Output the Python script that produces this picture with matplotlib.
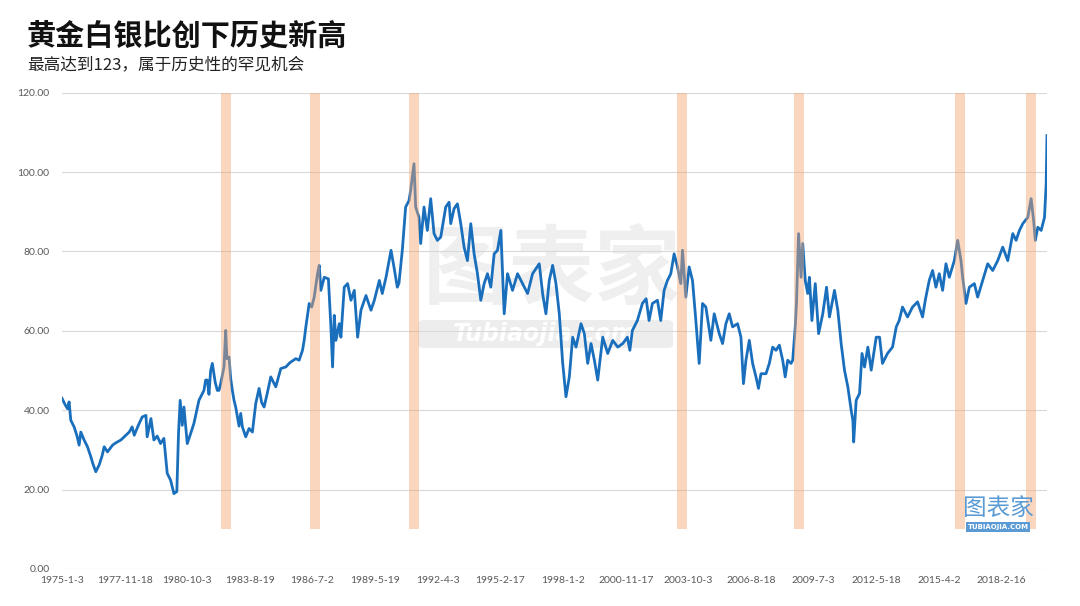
import matplotlib
matplotlib.use('Agg')
import matplotlib.pyplot as plt
from matplotlib.patches import FancyBboxPatch

plt.rcParams['font.family'] = ['Noto Sans CJK SC', 'DejaVu Sans']

weeks = [0, 7, 13, 17, 21, 29, 36, 41, 45, 53, 61, 69, 74, 81, 89, 96, 101, 109, 121, 129,
         141, 153, 161, 168, 173, 182, 192, 201, 204, 213, 220, 228, 236, 244, 252, 260, 268, 275, 279, 283,
         288, 292, 300, 308, 316, 328, 340, 344, 348, 352, 356, 360, 367, 372, 376, 380, 388, 392, 395, 400,
         404, 408, 412, 416, 424, 428, 432, 440, 448, 456, 464, 472, 478, 484, 491, 500, 512, 524, 536, 546,
         560, 568, 576, 580, 584, 592, 598, 604, 612, 616, 620, 628, 638, 644, 648, 652, 656, 664, 668, 676,
         684, 692, 700, 708, 716, 728, 740, 748, 760, 767, 776, 788, 795, 803, 807, 815, 823, 831, 835, 843,
         847, 855, 859, 867, 875, 883, 891, 899, 907, 919, 927, 931, 939, 947, 955, 963, 971, 979, 987, 995,
         1003, 1011, 1019, 1027, 1035, 1043, 1051, 1059, 1067, 1079, 1091, 1103, 1115, 1127, 1143, 1151, 1159, 1167, 1175, 1183,
         1191, 1199, 1203, 1207, 1215, 1223, 1231, 1243, 1251, 1259, 1267, 1275, 1283, 1295, 1307, 1319, 1331, 1343, 1354, 1360,
         1366, 1378, 1390, 1399, 1406, 1414, 1426, 1434, 1442, 1450, 1458, 1466, 1474, 1482, 1486, 1494, 1502, 1510, 1518, 1526,
         1534, 1542, 1554, 1562, 1574, 1582, 1590, 1598, 1606, 1618, 1626, 1632, 1638, 1646, 1654, 1662, 1668, 1674, 1686, 1694,
         1702, 1710, 1718, 1726, 1732, 1738, 1746, 1750, 1756, 1759, 1764, 1770, 1774, 1780, 1786, 1790, 1796, 1804, 1812, 1822,
         1831, 1838, 1850, 1858, 1866, 1874, 1882, 1890, 1894, 1896, 1902, 1910, 1916, 1922, 1930, 1938, 1950, 1958, 1965, 1977,
         1989, 1998, 2005, 2013, 2025, 2037, 2049, 2061, 2068, 2077, 2085, 2093, 2101, 2109, 2117, 2125, 2137, 2145, 2153, 2157,
         2165, 2173, 2185, 2193, 2205, 2217, 2229, 2241, 2253, 2265, 2277, 2285, 2293, 2301, 2313, 2321, 2327, 2331, 2337, 2345,
         2353, 2357, 2359]

ratio = [43.0, 41.5, 40.4, 42.1, 37.5, 35.8, 33.5, 31.2, 34.5, 32.5, 30.8, 28.3, 26.5, 24.5, 26.2, 28.5, 30.8, 29.5, 31.2, 31.8,
         32.5, 33.7, 34.5, 35.8, 33.7, 36.0, 38.3, 38.7, 33.3, 37.9, 32.5, 33.5, 31.6, 32.9, 24.1, 22.4, 19.0, 19.5, 34.0, 42.5,
         36.2, 40.8, 31.6, 34.1, 36.7, 42.5, 45.0, 47.6, 47.6, 44.0, 50.0, 51.8, 47.0, 45.0, 45.0, 46.7, 50.9, 60.1, 53.0, 53.4,
         48.0, 45.0, 42.5, 40.8, 36.0, 39.2, 35.8, 33.3, 35.4, 34.5, 41.7, 45.5, 42.0, 40.8, 44.0, 48.4, 45.9, 50.5, 50.9, 52.0,
         53.0, 52.6, 55.1, 57.6, 61.0, 66.9, 66.0, 68.5, 74.4, 76.5, 70.2, 73.5, 73.1, 61.0, 50.9, 63.9, 57.6, 61.8, 58.4, 71.0,
         71.9, 67.7, 70.2, 58.4, 65.2, 68.9, 65.2, 67.7, 72.7, 69.4, 73.5, 80.3, 76.1, 71.0, 72.0, 80.3, 91.2, 92.8, 95.4, 102.1,
         91.2, 88.6, 82.0, 91.2, 85.3, 93.3, 84.5, 82.8, 83.6, 91.2, 92.4, 87.0, 90.8, 92.0, 87.0, 81.1, 77.7, 87.0, 79.4, 74.4,
         67.7, 71.9, 74.4, 71.0, 79.4, 80.3, 85.3, 64.3, 74.4, 70.2, 74.4, 71.9, 69.4, 74.4, 76.9, 69.4, 64.3, 72.7, 76.5, 71.9,
         64.3, 52.0, 47.6, 43.4, 48.4, 58.4, 55.9, 61.8, 59.3, 51.8, 56.8, 52.6, 47.6, 58.4, 54.3, 57.6, 55.9, 56.8, 58.4, 55.1,
         60.1, 62.6, 66.9, 68.1, 62.6, 66.9, 67.7, 62.6, 70.2, 72.7, 74.4, 79.4, 76.1, 71.9, 80.3, 68.5, 76.1, 72.7, 62.6, 51.8,
         66.9, 66.0, 57.6, 64.3, 59.3, 56.8, 61.8, 64.3, 61.0, 61.8, 58.4, 46.7, 52.6, 57.6, 51.8, 48.4, 45.5, 49.2, 49.2, 51.8,
         55.9, 55.1, 56.4, 52.6, 48.4, 52.6, 51.8, 52.6, 61.0, 66.9, 84.5, 73.5, 82.0, 72.7, 69.4, 73.5, 62.6, 71.9, 59.3, 64.3,
         71.0, 63.5, 70.2, 65.2, 56.8, 50.1, 45.9, 40.0, 37.5, 32.0, 42.5, 44.2, 54.3, 50.9, 55.9, 50.1, 58.4, 58.4, 51.8, 54.3,
         55.9, 61.0, 62.6, 66.0, 63.5, 66.0, 67.3, 63.5, 68.0, 72.7, 75.2, 71.0, 74.4, 70.2, 76.9, 73.5, 77.7, 82.8, 77.7, 73.5,
         66.9, 71.0, 71.9, 68.5, 72.7, 76.9, 75.2, 77.7, 81.1, 77.7, 84.5, 82.8, 85.3, 87.0, 88.6, 93.3, 87.8, 82.8, 86.1, 85.3,
         88.6, 97.0, 109.2]

tick_weeks = [0, 150, 300, 450, 600, 750, 900, 1050, 1200, 1350, 1500, 1650, 1800, 1950, 2100, 2250]
tick_labels = ['1975-1-3', '1977-11-18', '1980-10-3', '1983-8-19', '1986-7-2', '1989-5-19', '1992-4-3',
               '1995-2-17', '1998-1-2', '2000-11-17', '2003-10-3', '2006-8-18', '2009-7-3', '2012-5-18',
               '2015-4-2', '2018-2-16']

# highlighted periods (centre week of each band)
peak_weeks = [393, 607, 843, 1485, 1766, 2150, 2321]
band_low = 10
band_high = 120

fig = plt.figure(figsize=(10.8, 6.06), dpi=100)
ax = fig.add_axes([62 / 1080, 1 - 569 / 606, (1047 - 62) / 1080, (569 - 92.7) / 606])
ax.set_zorder(1)
ax.set_facecolor('none')

# watermark (behind the plot)
fig.text(552 / 1080, 1 - 272 / 606, '图表家', fontsize=62, color='#efefef', ha='center', va='center',
         fontweight='bold', zorder=-1)
wm = FancyBboxPatch((418 / 1080, 1 - 348 / 606), 255 / 1080, 28 / 606, boxstyle='round,pad=0,rounding_size=0.006',
                    transform=fig.transFigure, facecolor='#ededed', edgecolor='none', zorder=-2)
fig.patches.append(wm)
fig.text(545 / 1080, 1 - 334 / 606, 'Tubiaojia.com', fontsize=17, color='white', ha='center', va='center',
         fontweight='bold', style='italic', family='DejaVu Sans', zorder=-1)

ax.plot(weeks, ratio, color='#1a6fbd', lw=2.0, zorder=2)
ax.bar(peak_weeks, [band_high - band_low] * len(peak_weeks), width=24, bottom=band_low,
       color='#f3a46e', alpha=0.45, zorder=3)

ax.set_xlim(0, 2359)
ax.set_ylim(0, 120)
ax.set_yticks(range(0, 121, 20))
ax.set_yticklabels(['%.2f' % v for v in range(0, 121, 20)])
ax.set_xticks(tick_weeks)
ax.set_xticklabels(tick_labels)
ax.yaxis.grid(True, color='#d9d9d9', lw=0.8)
ax.set_axisbelow(True)
for s in ax.spines.values():
    s.set_visible(False)
ax.tick_params(length=0, labelsize=7.5, labelcolor='#595959')
ax.tick_params(axis='y', pad=9)
ax.tick_params(axis='x', pad=5)
for lbl in ax.get_xticklabels() + ax.get_yticklabels():
    lbl.set_family(['Lato', 'DejaVu Sans'])

# small logo bottom right
fig.text(998 / 1080, 1 - 508 / 606, '图表家', fontsize=17, color='#5b9bd5', ha='center', va='center', zorder=5)
fig.text(998 / 1080, 1 - 527 / 606, 'TUBIAOJIA.COM', fontsize=5, color='white', ha='center', va='center',
         family='DejaVu Sans', fontweight='bold',
         bbox=dict(boxstyle='square,pad=0.25', facecolor='#5b9bd5', edgecolor='none'), zorder=5)

fig.text(27 / 1080, 1 - 35 / 606, '黄金白银比创下历史新高', fontsize=21, fontweight='bold', color='#111111',
         ha='left', va='center')
fig.text(27 / 1080, 1 - 65 / 606, '最高达到123，属于历史性的罕见机会', fontsize=12, color='#222222',
         ha='left', va='center')

fig.savefig('out.png', dpi=100)
